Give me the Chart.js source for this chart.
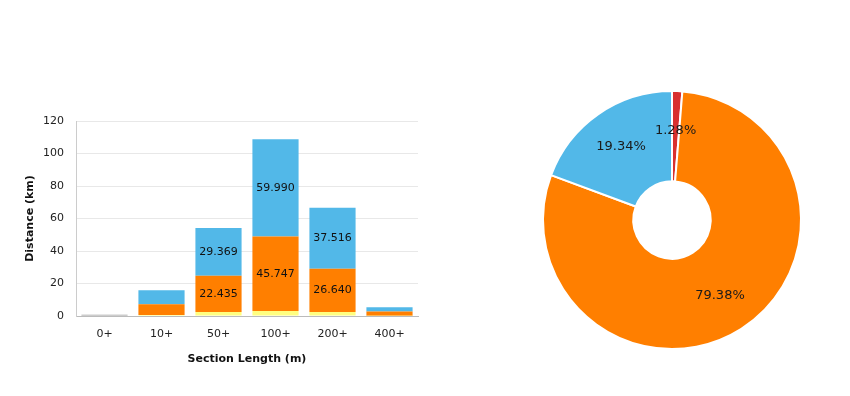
<!DOCTYPE html>
<html>
<head>
<meta charset="utf-8">
<script src="https://cdn.jsdelivr.net/npm/chart.js@4.4.1/dist/chart.umd.min.js"></script>
<style>
  body { margin: 0; background: #fff; }
  #wrap { position: relative; width: 850px; height: 396px; }
  #bar_chart { position: absolute; left: 0; top: 0; }
  #pie_chart { position: absolute; left: 430px; top: 0; }
</style>
</head>
<body>
<div id="wrap">
  <canvas id="bar_chart" width="430" height="396"></canvas>
  <canvas id="pie_chart" width="420" height="396"></canvas>
</div>
<script>
// bar chart data (km per section length group)
var categories = ["0+", "10+", "50+", "100+", "200+", "400+"];
var greyData   = [0.8, 0, 0, 0, 0, 0];
var yellowData = [0, 0.6, 2.4, 3.1, 2.5, 0.2];
var orangeData = [0, 6.6, 22.435, 45.747, 26.640, 2.6];
var blueData   = [0, 8.643, 29.369, 59.990, 37.516, 2.6];
var yTicks = [0, 20, 40, 60, 80, 100, 120];

// pie data (percent)
var pieLabels = ["Red", "Orange", "Blue"];
var pieValues = [1.28, 79.38, 19.34];

var font = "'DejaVu Sans', Verdana, sans-serif";
Chart.defaults.font.family = font;
Chart.defaults.color = "#222";

// draws the value inside a stacked segment when it is tall enough
var barLabels = {
  id: 'barLabels',
  afterDatasetsDraw: function(chart) {
    var ctx = chart.ctx;
    ctx.save();
    ctx.font = "11px " + font;
    ctx.fillStyle = "#111";
    ctx.textAlign = "center";
    ctx.textBaseline = "middle";
    chart.data.datasets.forEach(function(ds, i) {
      var meta = chart.getDatasetMeta(i);
      meta.data.forEach(function(bar, j) {
        var v = ds.data[j];
        var h = Math.abs(bar.base - bar.y);
        if (v > 0 && h > 15) {
          ctx.fillText(v.toFixed(3), bar.x, (bar.y + bar.base) / 2);
        }
      });
    });
    ctx.restore();
  }
};

var ctx = document.getElementById("bar_chart").getContext('2d');
var bar_chart = new Chart(ctx, {
  type: 'bar',
  data: {
    labels: categories,
    datasets: [
      { label: "Grey", data: greyData, backgroundColor: "#999999" },
      { label: "Yellow", data: yellowData, backgroundColor: "#FFFF80" },
      { label: "Orange", data: orangeData, backgroundColor: "#FF7F00" },
      { label: "Blue", data: blueData, backgroundColor: "#52B8E8" }
    ]
  },
  options: {
    responsive: false,
    animation: false,
    layout: { padding: { left: 20, right: 12, top: 121, bottom: 20 } },
    datasets: { bar: { categoryPercentage: 0.81, barPercentage: 1.0 } },
    plugins: { legend: { display: false }, tooltip: { enabled: false } },
    scales: {
      x: {
        stacked: true,
        grid: { display: false, drawTicks: false },
        border: { color: "#bbbbbb" },
        ticks: { font: { size: 11 }, padding: 12, color: "#222" },
        title: { display: true, text: "Section Length (m)", font: { size: 11, weight: 'bold' }, color: "#111", padding: { top: 2, bottom: 10 } },
        afterFit: function(scale) { scale.height = 60; }
      },
      y: {
        stacked: true,
        min: 0, max: 120,
        afterBuildTicks: function(scale) { scale.ticks = yTicks.map(function(v) { return { value: v }; }); },
        grid: { color: "#e8e8e8", drawTicks: false },
        border: { color: "#cccccc" },
        ticks: { font: { size: 11 }, padding: 12, color: "#222" },
        title: { display: true, text: "Distance (km)", font: { size: 11, weight: 'bold' }, color: "#111" },
        afterFit: function(scale) { scale.width = 56; }
      }
    }
  },
  plugins: [barLabels]
});

// percentage labels a little past the middle of the ring
var pieText = {
  id: 'pieText',
  afterDatasetsDraw: function(chart) {
    var c = chart.ctx;
    c.save();
    c.font = "13px " + font;
    c.fillStyle = "#1a1a1a";
    c.textAlign = "center";
    c.textBaseline = "middle";
    chart.getDatasetMeta(0).data.forEach(function(arc, i) {
      var p = arc.getProps(['x', 'y', 'startAngle', 'endAngle', 'innerRadius', 'outerRadius']);
      var a = (p.startAngle + p.endAngle) / 2;
      var r = p.innerRadius + 0.56 * (p.outerRadius - p.innerRadius);
      c.fillText(pieValues[i].toFixed(2) + "%", p.x + Math.cos(a) * r, p.y + Math.sin(a) * r);
    });
    c.restore();
  }
};

var ctx2 = document.getElementById("pie_chart").getContext('2d');
var pie_chart = new Chart(ctx2, {
  type: 'doughnut',
  data: {
    labels: pieLabels,
    datasets: [{
      data: pieValues,
      backgroundColor: ["#D8302F", "#FF7F00", "#52B8E8"],
      borderColor: "#ffffff",
      borderWidth: 2
    }]
  },
  options: {
    responsive: false,
    animation: false,
    cutout: '30%',
    layout: { padding: { left: 112, right: 48, top: 90, bottom: 46 } },
    plugins: { legend: { display: false }, tooltip: { enabled: false } }
  },
  plugins: [pieText]
});
</script>
</body>
</html>
